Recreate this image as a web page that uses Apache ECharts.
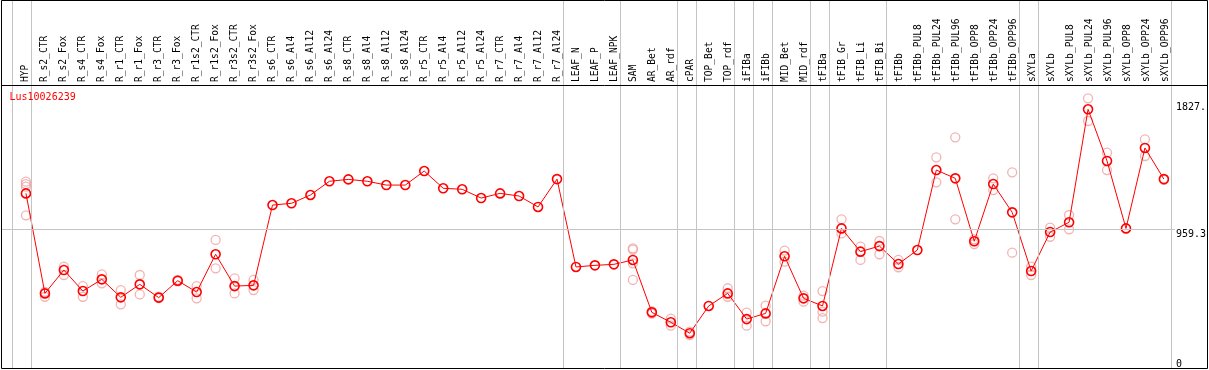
<!DOCTYPE html>
<html>
<head>
<meta charset="utf-8">
<script src="https://cdn.jsdelivr.net/npm/echarts@6/dist/echarts.min.js"></script>
<style>
html,body{margin:0;padding:0;background:#fff;}
#chart{width:1209px;height:370px;}
</style>
</head>
<body>
<div id="chart"></div>
<script>
const geneId = 'Lus10026239';
const categories = ['HYP','R_s2_CTR','R_s2_Fox','R_s4_CTR','R_s4_Fox','R_r1_CTR','R_r1_Fox','R_r3_CTR','R_r3_Fox','R_r1s2_CTR','R_r1s2_Fox','R_r3s2_CTR','R_r3s2_Fox','R_s6_CTR','R_s6_Al4','R_s6_Al12','R_s6_Al24','R_s8_CTR','R_s8_Al4','R_s8_Al12','R_s8_Al24','R_r5_CTR','R_r5_Al4','R_r5_Al12','R_r5_Al24','R_r7_CTR','R_r7_Al4','R_r7_Al12','R_r7_Al24','LEAF_N','LEAF_P','LEAF_NPK','SAM','AR_Bet','AR_rdf','cPAR','TOP_Bet','TOP_rdf','iFIBa','iFIBb','MID_Bet','MID_rdf','tFIBa','tFIB_Gr','tFIB_Li','tFIB_Bi','tFIBb','tFIBb_PUL8','tFIBb_PUL24','tFIBb_PUL96','tFIBb_OPP8','tFIBb_OPP24','tFIBb_OPP96','sXYLa','sXYLb','sXYLb_PUL8','sXYLb_PUL24','sXYLb_PUL96','sXYLb_OPP8','sXYLb_OPP24','sXYLb_OPP96'];
const means = [1203,518,678,534,614,491,580,489,605,527,786,568,573,1123,1135,1192,1286,1299,1286,1260,1260,1356,1238,1231,1171,1203,1185,1110,1301,699,710,717,747,388,320,245,432,518,342,381,772,484,432,963,804,842,719,815,1363,1306,875,1267,1073,671,938,1005,1779,1425,963,1514,1301];
const replicates = [
  [1283,1267,1249,1053],[529,495],[701,644],[568,495],[648,587],[541,443],[644,511],[485,495],[600,610],[568,484],
  [884,690],[621,518],[610,541],[],[],[],[],[],[],[],
  [],[],[],[],[],[],[],[],[],[],
  [],[],[827,818,724,610],[395,380],[345,297],[256,233],[],[553,495],[386,297],[434,327],
  [811,735],[502,461],[534,393,349],[1025,929],[838,747],[877,786],[747,697],[],[1450,1279],[1587,1025],
  [888,856],[1306,1226],[1347,797],[701,644],[968,906],[1055,957],[1854,1699],[1482,1363],[],[1573,1459],
  [1295]
];
const yTicks = [0, 959.3, 1827];
const yTickLabels = ['0', '959.3', '1827.'];
const groupEnds = [-1, 0, 28, 31, 34, 35, 37, 38, 39, 41, 42, 45, 52, 53, 60];

// layout constants
const X_MIN = -25/19, X_MAX = (1177-26)/19;
const SEP_OFFSET = 5/19;
const FONT = 'DejaVu Sans Mono';

const meanData = means.map((v,i)=>[i,v]);
const repData = [];
replicates.forEach((arr,i)=>arr.forEach(v=>repData.push([i,v])));

const chart = echarts.init(document.getElementById('chart'), null, {renderer:'canvas'});
chart.setOption({
  animation:false,
  backgroundColor:'#fff',
  title:{text:geneId,left:9.5,top:92,padding:0,textStyle:{color:'#ff0000',fontSize:10,fontWeight:'normal',fontFamily:FONT}},
  grid:[
    {left:1,right:32,top:102.3,bottom:1},
    {left:1,right:32,top:0,bottom:1},
    {left:16,width:1159,top:85,height:10}
  ],
  xAxis:[
    {type:'value',gridIndex:0,min:X_MIN,max:X_MAX,show:false},
    {type:'value',gridIndex:1,min:X_MIN,max:X_MAX,show:false},
    {type:'category',gridIndex:2,position:'top',data:categories,boundaryGap:true,
     axisLine:{show:false},axisTick:{show:false},splitLine:{show:false},
     axisLabel:{rotate:90,interval:0,margin:3,fontSize:9.6,fontFamily:FONT,color:'#000'}}
  ],
  yAxis:[
    {type:'value',gridIndex:0,min:yTicks[0],max:yTicks[2],interval:yTicks[1]-yTicks[0],position:'right',
     axisLine:{show:false},axisTick:{show:false},splitLine:{show:false},
     axisLabel:{show:true,margin:1,align:'left',verticalAlign:'top',verticalAlignMinLabel:'bottom',
       fontSize:10,fontFamily:FONT,color:'#000',
       formatter:function(v){const k=yTicks.findIndex(t=>Math.abs(t-v)<0.01);return k>=0?yTickLabels[k]:'';}}},
    {type:'value',gridIndex:1,min:0,max:1,show:false},
    {type:'value',gridIndex:2,min:0,max:1,show:false}
  ],
  graphic:[
    {type:'rect',z:100,silent:true,shape:{x:1.5,y:0.5,width:1206,height:368},style:{fill:null,stroke:'#000',lineWidth:1}},
    {type:'line',z:100,silent:true,shape:{x1:1,y1:85.5,x2:1208,y2:85.5},style:{stroke:'#000',lineWidth:1}}
  ],
  series:[
    {type:'line',xAxisIndex:1,yAxisIndex:1,data:[],z:1,silent:true,
     markLine:{silent:true,symbol:['none','none'],label:{show:false},
       lineStyle:{color:'#c4c4c4',type:'solid',width:1},
       data:groupEnds.map(g=>({xAxis:g+SEP_OFFSET}))}},
    {type:'scatter',xAxisIndex:0,yAxisIndex:0,data:repData,z:2,clip:false,
     symbol:'circle',symbolSize:9,
     itemStyle:{color:'rgba(0,0,0,0)',borderColor:'#f0a0a0',borderWidth:1.3}},
    {type:'line',xAxisIndex:0,yAxisIndex:0,data:meanData,z:3,clip:false,
     symbol:'circle',symbolSize:9,showAllSymbol:true,
     lineStyle:{color:'#ff0000',width:1},
     itemStyle:{color:'rgba(0,0,0,0)',borderColor:'#ff0000',borderWidth:1.6},
     markLine:{silent:true,symbol:['none','none'],label:{show:false},
       lineStyle:{color:'#c4c4c4',type:'solid',width:1},
       data:[{yAxis:yTicks[1]}]}}
  ]
});
</script>
</body>
</html>
